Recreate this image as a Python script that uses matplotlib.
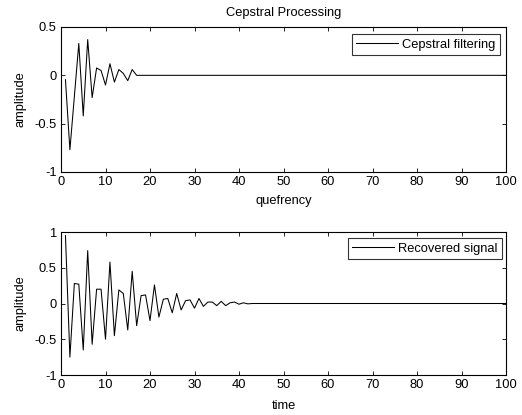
import numpy as np
import matplotlib
matplotlib.use("Agg")
import matplotlib.pyplot as plt

plt.rcParams['font.family'] = ['Liberation Sans', 'DejaVu Sans']

# Cepstral filtering values (x = 1..100)
cep_head = [-0.045, -0.77, -0.22, 0.33, -0.42, 0.37, -0.23, 0.076, 0.05, -0.10,
            0.12, -0.07, 0.06, 0.02, -0.055, 0.06, 0.0]
cep_values = cep_head + [0.0] * (100 - len(cep_head))

# Recovered signal values (x = 1..100)
rec_head = [0.95, -0.75, 0.28, 0.27, -0.65, 0.74, -0.57, 0.20, 0.20, -0.50,
            0.58, -0.45, 0.19, 0.14, -0.37, 0.45, -0.31, 0.11, 0.12, -0.24,
            0.26, -0.19, 0.06, 0.07, -0.13, 0.14, -0.09, 0.04, 0.05, -0.065,
            0.07, -0.04, 0.02, 0.02, -0.03, 0.03, -0.03, 0.01, 0.02, -0.01,
            0.01, -0.005, 0.0]
rec_values = rec_head + [0.0] * (100 - len(rec_head))

xvals = list(range(1, 101))
xticks = [0, 10, 20, 30, 40, 50, 60, 70, 80, 90, 100]
yticks_top = [-1, -0.5, 0, 0.5]
yticks_bot = [-1, -0.5, 0, 0.5, 1]

W, H = 522, 415
fig = plt.figure(figsize=(W / 100, H / 100), dpi=100)

def axrect(l, t, r, b):
    return [l / W, 1 - b / H, (r - l) / W, (b - t) / H]

ax1 = fig.add_axes(axrect(61, 27, 506, 172))
ax2 = fig.add_axes(axrect(61, 232, 506, 375))

fs = 9.3

def style(ax, yticks, ylim):
    ax.set_xlim(0, 100)
    ax.set_ylim(*ylim)
    ax.set_xticks(xticks)
    ax.set_yticks(yticks)
    ax.set_xticklabels([str(t) for t in xticks])
    ax.set_yticklabels(['%g' % t for t in yticks])
    ax.tick_params(direction='in', top=True, right=True, labelsize=fs,
                   length=3, width=0.6, pad=3)
    for s in ax.spines.values():
        s.set_linewidth(0.8)

def add_legend(ax, right_px, top_px):
    leg = ax.legend(loc='upper right', fontsize=fs, frameon=True, fancybox=False,
                    edgecolor='black', handlelength=3.2, handletextpad=0.35,
                    borderaxespad=0, borderpad=0.35,
                    bbox_to_anchor=(right_px / W, 1 - top_px / H),
                    bbox_transform=fig.transFigure)
    leg.get_frame().set_linewidth(0.8)
    return leg

ax1.plot(xvals, cep_values, color='black', linewidth=0.75, label='Cepstral filtering')
style(ax1, yticks_top, (-1, 0.5))
ax1.set_title('Cepstral Processing', fontsize=fs, pad=8)
ax1.set_xlabel('quefrency', fontsize=fs, labelpad=5)
ax1.set_ylabel('amplitude', fontsize=fs, labelpad=6)
add_legend(ax1, 500, 34)

ax2.plot(xvals, rec_values, color='black', linewidth=0.75, label='Recovered signal')
style(ax2, yticks_bot, (-1, 1))
ax2.set_xlabel('time', fontsize=fs, labelpad=6)
ax2.set_ylabel('amplitude', fontsize=fs, labelpad=6)
add_legend(ax2, 502, 238)

fig.savefig('out.png', dpi=100)
